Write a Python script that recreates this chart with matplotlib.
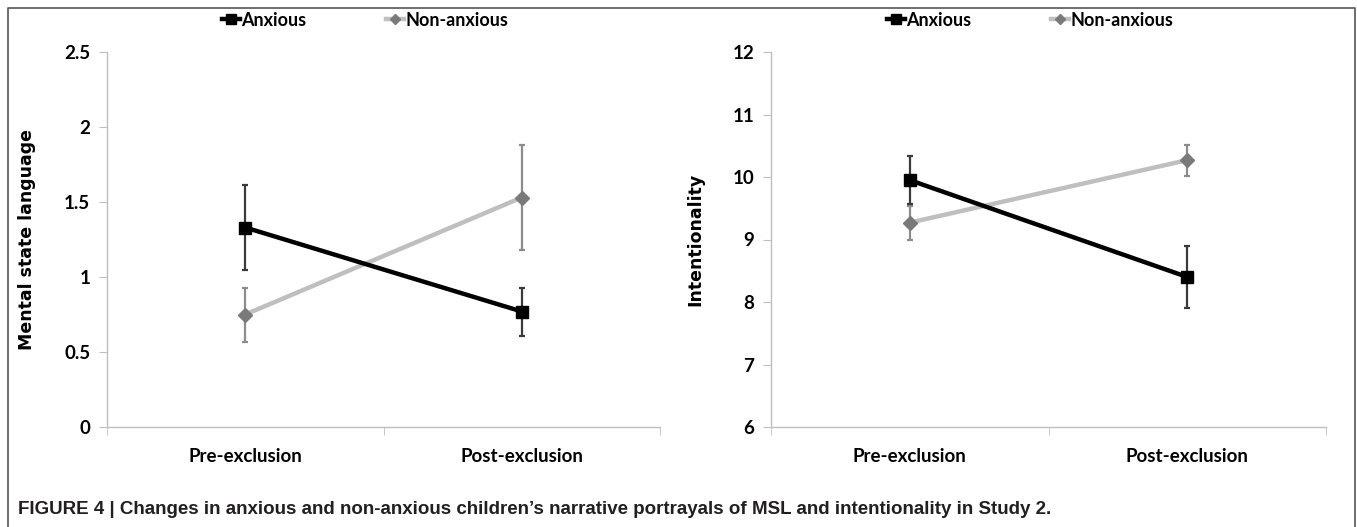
import numpy as np
import matplotlib.pyplot as plt
from matplotlib.lines import Line2D

# categories and values
phases = ['Pre-exclusion', 'Post-exclusion']

msl_anxious = [1.33, 0.77]
msl_anxious_err = [0.28, 0.16]
msl_nonanxious = [0.75, 1.53]
msl_nonanxious_err = [0.18, 0.35]

int_anxious = [9.95, 8.40]
int_anxious_err = [0.38, 0.49]
int_nonanxious = [9.27, 10.27]
int_nonanxious_err = [0.27, 0.25]

caption = ('FIGURE 4 | Changes in anxious and non-anxious children\u2019s narrative '
           'portrayals of MSL and intentionality in Study 2.')

W, H = 1357, 527
fig = plt.figure(figsize=(W / 100, H / 100), dpi=100)

TICK_FONT = 'Lato'
AXIS_GRAY = '#bfbfbf'


def draw_panel(ax, anx, anx_err, non, non_err, ylim, yticks, ylabel):
    x = np.arange(len(phases))
    # non-anxious first so the black line sits on top
    ax.errorbar(x, non, yerr=non_err, fmt='none', ecolor='#8c8c8c',
                elinewidth=1.6, capsize=2.5, capthick=1.6, zorder=2)
    ax.plot(x, non, color='#bfbfbf', lw=3.2, zorder=3)
    ax.plot(x, non, ls='none', marker='D', ms=7, color='#7a7a7a', zorder=4)

    ax.errorbar(x, anx, yerr=anx_err, fmt='none', ecolor='#3a3a3a',
                elinewidth=1.6, capsize=2.5, capthick=1.6, zorder=5)
    ax.plot(x, anx, color='black', lw=3.2, marker='s', ms=8,
            markerfacecolor='black', zorder=6)

    ax.set_xlim(-0.5, len(phases) - 0.5)
    ax.set_ylim(*ylim)
    ax.set_yticks(yticks)
    ax.set_yticklabels([('%g' % t) for t in yticks],
                       fontfamily=TICK_FONT, fontweight='bold', fontsize=13.5)
    ax.set_xticks(x)
    ax.set_xticklabels(phases, fontfamily=TICK_FONT, fontweight='bold', fontsize=13.5)
    ax.set_xticks(np.arange(-0.5, len(phases)), minor=True)
    ax.tick_params(axis='x', which='major', length=0, pad=15)
    ax.tick_params(axis='x', which='minor', length=6, color=AXIS_GRAY, direction='out')
    ax.tick_params(axis='y', length=6, color=AXIS_GRAY, direction='out', pad=6)

    for side in ['top', 'right']:
        ax.spines[side].set_visible(False)
    for side in ['left', 'bottom']:
        ax.spines[side].set_color(AXIS_GRAY)
        ax.spines[side].set_linewidth(1)

    ax.set_ylabel(ylabel, fontfamily='DejaVu Sans', fontweight='bold', fontsize=12.5,
                  labelpad=20)

    handles = [
        Line2D([], [], color='black', lw=3.2, marker='s', ms=7),
        Line2D([], [], color='#bfbfbf', lw=3.2, marker='D', ms=5,
               markerfacecolor='#7a7a7a', markeredgecolor='#7a7a7a'),
    ]
    leg = ax.legend(handles, ['Anxious', 'Non-anxious'], ncol=2, frameon=False,
                    loc='lower center', bbox_to_anchor=(0.467, 1.0),
                    handlelength=1.0, handletextpad=0.1, columnspacing=4.4,
                    prop={'family': TICK_FONT, 'weight': 'bold', 'size': 13},
                    borderaxespad=0.9)
    return leg


ax1 = fig.add_axes([107 / W, 1 - 427 / H, 553 / W, 375 / H])
draw_panel(ax1, msl_anxious, msl_anxious_err, msl_nonanxious, msl_nonanxious_err,
           (0, 2.5), [0, 0.5, 1, 1.5, 2, 2.5], 'Mental state language')

ax2 = fig.add_axes([771 / W, 1 - 427 / H, 555 / W, 375 / H])
draw_panel(ax2, int_anxious, int_anxious_err, int_nonanxious, int_nonanxious_err,
           (6, 12), [6, 7, 8, 9, 10, 11, 12], 'Intentionality')

# open frame around the figure (left, top, right)
frame = Line2D([8 / W, 8 / W, 1355 / W, 1355 / W], [0, 1 - 8 / H, 1 - 8 / H, 0],
               transform=fig.transFigure, color='#555555', lw=1.2)
fig.add_artist(frame)

fig.text(18 / W, 1 - 510 / H, caption, ha='left', va='center',
         family=['Liberation Sans Narrow', 'Liberation Sans'], fontweight='bold',
         fontsize=13.5, color='#231f20')

fig.savefig('out.png', dpi=100)
